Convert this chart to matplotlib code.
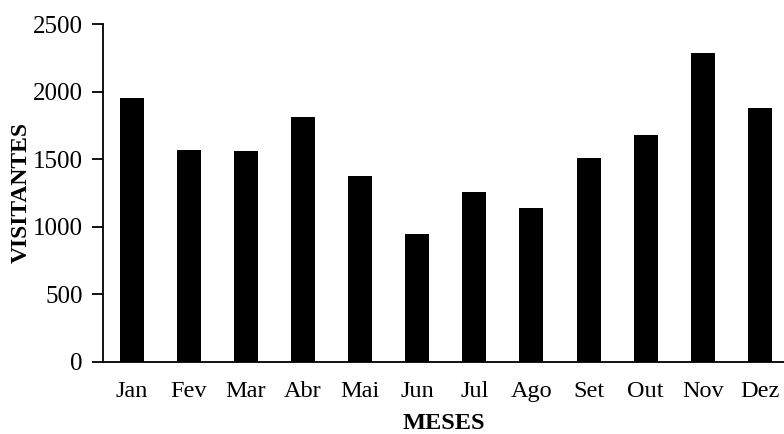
import matplotlib

matplotlib.use("Agg")
import matplotlib.pyplot as plt

meses = ["Jan", "Fev", "Mar", "Abr", "Mai", "Jun", "Jul", "Ago", "Set", "Out", "Nov", "Dez"]
visitantes = [1954, 1569, 1562, 1809, 1372, 945, 1259, 1135, 1506, 1676, 2283, 1876]
y_ticks = [0, 500, 1000, 1500, 2000, 2500]

plt.rcParams["font.family"] = ["Liberation Serif", "DejaVu Serif"]

fig = plt.figure(figsize=(7.84, 4.34), dpi=100)
ax = fig.add_axes([0.1314, 0.1666, 0.8686, 0.778])

x = list(range(len(meses)))
ax.bar(x, visitantes, width=0.42, color="black")

ax.set_xlim(-0.5, 11.42)
ax.set_ylim(0, 2500)
ax.set_yticks(y_ticks)
ax.set_xticks(x)
ax.set_xticklabels(meses)

for side in ("top", "right"):
    ax.spines[side].set_visible(False)
for side in ("left", "bottom"):
    ax.spines[side].set_linewidth(1.3)

ax.tick_params(axis="y", length=8, width=1.3, labelsize=18, pad=6.5)
ax.tick_params(axis="x", length=0, labelsize=17.5, pad=14)

ax.set_xlabel("MESES", fontsize=17.5, fontweight="bold", labelpad=8)
ax.set_ylabel("VISITANTES", fontsize=17, fontweight="bold", labelpad=1)

fig.savefig("out.png", dpi=100)
plt.close(fig)
